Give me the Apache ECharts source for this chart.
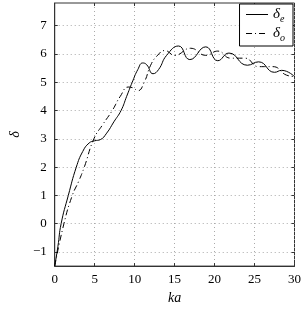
<!DOCTYPE html>
<html><head><meta charset="utf-8">
<script src="https://cdn.jsdelivr.net/npm/echarts@6/dist/echarts.min.js"></script>
<style>html,body{margin:0;padding:0;background:#fff}#c{width:304px;height:310px}</style>
</head><body><div id="c"></div>
<script>
// δe (solid)
const kaE = [0, 0.4, 0.8, 1.7, 2.7, 3.5, 4.3, 5.0, 5.7, 6.5, 7.4, 8.3, 9.0, 9.7, 10.4, 11.0, 11.5, 12.3, 13.0, 14.0, 15.5, 16.9, 18.9, 20.4, 21.8, 24.1, 25.5, 27.5, 28.4, 30];
const deltaE = [-1.5, -0.8, 0, 1.0, 2.0, 2.55, 2.85, 2.93, 2.97, 3.2, 3.6, 4.0, 4.5, 5.0, 5.45, 5.68, 5.62, 5.3, 5.45, 5.95, 6.28, 5.8, 6.25, 5.76, 6.03, 5.6, 5.72, 5.35, 5.42, 5.2];
// δo (dash-dot)
const kaO = [0, 1.15, 2.2, 3.0, 3.7, 4.9, 6.0, 7.2, 8.2, 9.2, 9.8, 10.4, 11.2, 12.0, 12.8, 13.8, 15.0, 17.0, 18.9, 20.4, 22.0, 23.8, 25.5, 27.3, 29.0, 30];
const deltaO = [-1.5, 0, 1.0, 1.5, 2.0, 3.0, 3.5, 4.0, 4.5, 4.83, 4.8, 4.7, 5.0, 5.6, 5.93, 6.12, 5.95, 6.2, 5.95, 6.1, 5.85, 5.85, 5.55, 5.55, 5.25, 5.2];
const xTicks = [0, 5, 10, 15, 20, 25, 30];
const yTicks = [-1, 0, 1, 2, 3, 4, 5, 6, 7];
const seriesNames = ['δ{s|e}', 'δ{s|o}'];

const font = 'Liberation Serif';
const gridLine = {show: true, lineStyle: {color: '#aaa', type: [1, 3], width: 1}};
const tick = {inside: true, length: 3, lineStyle: {color: '#333'}};
const chart = echarts.init(document.getElementById('c'), null, {renderer: 'canvas'});
chart.setOption({
  animation: false,
  grid: {left: 36, right: 8, top: 3, bottom: 36, show: true, borderColor: '#333', borderWidth: 1},
  legend: {
    right: 11, top: 4, orient: 'vertical', itemGap: 2, itemWidth: 22, itemHeight: 14,
    backgroundColor: '#fff', borderColor: '#000', borderWidth: 1, padding: [3, 8, 3, 6],
    itemStyle: {opacity: 0}, lineStyle: {width: 1},
    textStyle: {fontFamily: font, fontSize: 15, fontStyle: 'italic', color: '#000',
      rich: {s: {fontFamily: font, fontSize: 10, fontStyle: 'italic', verticalAlign: 'bottom', padding: [9, 0, 0, 0]}}},
    data: seriesNames
  },
  xAxis: [{
    type: 'value', min: 0, max: 30, interval: 5,
    name: 'ka', nameLocation: 'middle', nameGap: 20,
    nameTextStyle: {fontFamily: font, fontSize: 14, fontStyle: 'italic', color: '#000'},
    axisLine: {onZero: false, lineStyle: {color: '#333'}},
    axisTick: tick,
    axisLabel: {fontFamily: font, fontSize: 13, color: '#000', margin: 7},
    splitLine: gridLine
  }, {
    type: 'value', min: 0, max: 30, interval: 5, position: 'top',
    axisLine: {show: false, onZero: false}, axisTick: tick, axisLabel: {show: false}, splitLine: {show: false}
  }],
  yAxis: [{
    type: 'value', min: -1.5, max: 7.8,
    name: 'δ', nameLocation: 'middle', nameGap: 26,
    nameTextStyle: {fontFamily: font, fontSize: 14, fontStyle: 'italic', color: '#000'},
    axisLine: {show: true, onZero: false, lineStyle: {color: '#333'}},
    axisTick: Object.assign({customValues: yTicks}, tick),
    axisLabel: {fontFamily: font, fontSize: 13, color: '#000', margin: 8, customValues: yTicks,
      formatter: v => (v < 0 ? '\u2212' + (-v) : '' + v)},
    splitLine: gridLine
  }, {
    type: 'value', min: -1.5, max: 7.8, position: 'right',
    axisLine: {show: false, onZero: false}, axisTick: Object.assign({customValues: yTicks}, tick),
    axisLabel: {show: false, customValues: yTicks}, splitLine: {show: false}
  }],
  series: [
    {name: seriesNames[0], type: 'line', smooth: 0.5, symbol: 'none',
      data: kaE.map((k, i) => [k, deltaE[i]]), lineStyle: {color: '#000', width: 1}, itemStyle: {color: '#000'}},
    {name: seriesNames[1], type: 'line', smooth: 0.5, symbol: 'none',
      data: kaO.map((k, i) => [k, deltaO[i]]), lineStyle: {color: '#000', width: 1, type: [6, 3, 1, 3]}, itemStyle: {color: '#000'}}
  ]
});
</script></body></html>
